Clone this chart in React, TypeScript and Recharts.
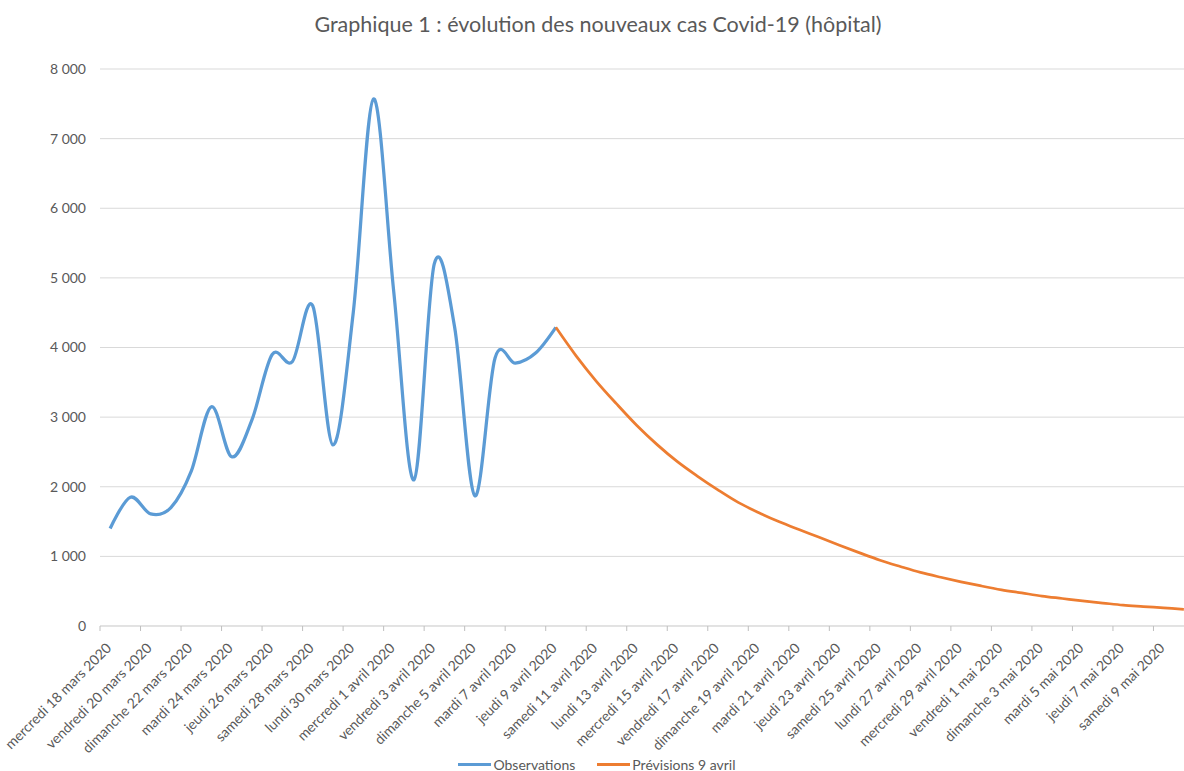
import React from 'react';
import { LineChart, Line, XAxis, YAxis, CartesianGrid, Legend } from 'recharts';

const dates = [
  'mercredi 18 mars 2020', 'jeudi 19 mars 2020', 'vendredi 20 mars 2020', 'samedi 21 mars 2020',
  'dimanche 22 mars 2020', 'lundi 23 mars 2020', 'mardi 24 mars 2020', 'mercredi 25 mars 2020',
  'jeudi 26 mars 2020', 'vendredi 27 mars 2020', 'samedi 28 mars 2020', 'dimanche 29 mars 2020',
  'lundi 30 mars 2020', 'mardi 31 mars 2020', 'mercredi 1 avril 2020', 'jeudi 2 avril 2020',
  'vendredi 3 avril 2020', 'samedi 4 avril 2020', 'dimanche 5 avril 2020', 'lundi 6 avril 2020',
  'mardi 7 avril 2020', 'mercredi 8 avril 2020', 'jeudi 9 avril 2020', 'vendredi 10 avril 2020',
  'samedi 11 avril 2020', 'dimanche 12 avril 2020', 'lundi 13 avril 2020', 'mardi 14 avril 2020',
  'mercredi 15 avril 2020', 'jeudi 16 avril 2020', 'vendredi 17 avril 2020', 'samedi 18 avril 2020',
  'dimanche 19 avril 2020', 'lundi 20 avril 2020', 'mardi 21 avril 2020', 'mercredi 22 avril 2020',
  'jeudi 23 avril 2020', 'vendredi 24 avril 2020', 'samedi 25 avril 2020', 'dimanche 26 avril 2020',
  'lundi 27 avril 2020', 'mardi 28 avril 2020', 'mercredi 29 avril 2020', 'jeudi 30 avril 2020',
  'vendredi 1 mai 2020', 'samedi 2 mai 2020', 'dimanche 3 mai 2020', 'lundi 4 mai 2020',
  'mardi 5 mai 2020', 'mercredi 6 mai 2020', 'jeudi 7 mai 2020', 'vendredi 8 mai 2020',
  'samedi 9 mai 2020', 'dimanche 10 mai 2020',
];

// Observations: 18 mars -> 9 avril
const observations = [
  1400, 1850, 1610, 1700, 2220, 3150, 2430, 2960, 3900, 3800, 4600, 2600,
  4500, 7570, 4800, 2100, 5200, 4300, 1870, 3850, 3775, 3920, 4290,
];
// Prévisions: 9 avril -> 10 mai
const forecastStart = 22;
const previsions = [
  4290, 3880, 3515, 3190, 2880, 2605, 2360, 2150, 1955, 1775, 1630, 1500,
  1385, 1275, 1160, 1050, 945, 855, 770, 700, 635, 575, 520, 475,
  430, 395, 360, 330, 300, 280, 260, 240,
];

const yTicks = [0, 1000, 2000, 3000, 4000, 5000, 6000, 7000, 8000];
const labelIdx = dates.map((_, i) => i).filter((i) => i % 2 === 0 && i < 53);
const boundaryIdx = dates.map((_, i) => i - 0.5).filter((_, i) => i % 2 === 0).concat([dates.length - 0.5]);

const rows = dates.map((d, i) => ({
  idx: i,
  date: d,
  obs: i < observations.length ? observations[i] : null,
  prev: i >= forecastStart && i - forecastStart < previsions.length ? previsions[i - forecastStart] : null,
}));

const FONT = 'Lato, "Open Sans", sans-serif';
const GREY = '#595959';

// Catmull-Rom (cardinal, tension 0) curve, like Excel's smoothed lines
function smoothCurve(context: any) {
  const k = 1 / 6;
  let x0 = NaN, y0 = NaN, x1 = NaN, y1 = NaN, x2 = NaN, y2 = NaN;
  let pt = 0;
  let line: number = NaN;
  const seg = (x: number, y: number) => {
    context.bezierCurveTo(
      x1 + k * (x2 - x0), y1 + k * (y2 - y0),
      x2 + k * (x1 - x), y2 + k * (y1 - y),
      x2, y2,
    );
  };
  return {
    areaStart() { line = 0; },
    areaEnd() { line = NaN; },
    lineStart() { x0 = x1 = x2 = y0 = y1 = y2 = NaN; pt = 0; },
    lineEnd() {
      if (pt === 2) context.lineTo(x2, y2);
      else if (pt === 3) seg(x1, y1);
      if (line || (line !== 0 && pt === 1)) context.closePath();
      line = 1 - line;
    },
    point(x: number, y: number) {
      x = +x; y = +y;
      if (pt === 0) {
        pt = 1;
        if (line) context.lineTo(x, y); else context.moveTo(x, y);
      } else if (pt === 1) {
        pt = 2; x1 = x; y1 = y;
      } else {
        pt = 3;
        seg(x, y);
      }
      x0 = x1; x1 = x2; x2 = x;
      y0 = y1; y1 = y2; y2 = y;
    },
  };
}

const fmt = (v: number) => String(v).replace(/\B(?=(\d{3})+(?!\d))/g, ' ');

const XTick = (props: any) => {
  const { x, y, payload } = props;
  const v = payload.value;
  if (!Number.isInteger(v)) {
    return <line x1={x} x2={x} y1={y - 5} y2={y} stroke="#BFBFBF" strokeWidth={1} />;
  }
  return (
    <text
      transform={`translate(${x + 2},${y + 18}) rotate(-45)`}
      textAnchor="end"
      fill={GREY}
      fontSize={14}
      fontFamily={FONT}
    >
      {dates[v]}
    </text>
  );
};

const LegendContent = (props: any) => {
  const payload = props.payload || [];
  return (
    <div
      style={{
        display: 'flex', justifyContent: 'center', alignItems: 'center', height: 14,
        fontFamily: FONT, fontSize: 14, color: GREY,
      }}
    >
      {payload.map((p: any, i: number) => (
        <div key={i} style={{ display: 'flex', alignItems: 'center', marginLeft: i ? 22 : 0 }}>
          <span style={{ display: 'inline-block', width: 33, height: 3, background: p.color, marginRight: 2 }} />
          <span>{p.value}</span>
        </div>
      ))}
    </div>
  );
};

export default function App() {
  return (
    <div style={{ position: 'absolute', left: 0, top: 0, width: 1184, height: 771, overflow: 'hidden', background: '#fff' }}>
      <div style={{ position: 'relative', width: 1196, height: 771 }}>
        <div
          style={{
            position: 'absolute', top: 11, left: 0, width: 1196, textAlign: 'center',
            fontFamily: FONT, fontSize: 21.5, color: GREY, lineHeight: '26px',
          }}
        >
          Graphique 1 : évolution des nouveaux cas Covid-19 (hôpital)
        </div>
        <LineChart width={1196} height={771} data={rows} margin={{ top: 69, right: 2, bottom: 0, left: 0 }}>
          <CartesianGrid horizontal vertical={false} stroke="#D9D9D9" />
          <XAxis
            dataKey="idx"
            type="number"
            domain={[-0.5, dates.length - 0.5]}
            ticks={[...boundaryIdx, ...labelIdx]}
            interval={0}
            tick={<XTick />}
            tickLine={false}
            tickSize={5}
            tickMargin={0}
            axisLine={{ stroke: '#D9D9D9' }}
            height={131}
          />
          <YAxis
            type="number"
            domain={[0, 8000]}
            ticks={yTicks}
            tickFormatter={fmt}
            axisLine={false}
            tickLine={false}
            tickMargin={8}
            width={100}
            tick={{ fill: GREY, fontSize: 14, fontFamily: FONT }}
          />
          <Legend verticalAlign="bottom" content={<LegendContent />} />
          <Line
            name="Observations"
            dataKey="obs"
            type={smoothCurve as any}
            stroke="#5B9BD5"
            strokeWidth={3.25}
            dot={false}
            activeDot={false}
            isAnimationActive={false}
          />
          <Line
            name="Prévisions 9 avril"
            dataKey="prev"
            type={smoothCurve as any}
            stroke="#ED7D31"
            strokeWidth={2.75}
            dot={false}
            activeDot={false}
            isAnimationActive={false}
          />
        </LineChart>
      </div>
    </div>
  );
}
